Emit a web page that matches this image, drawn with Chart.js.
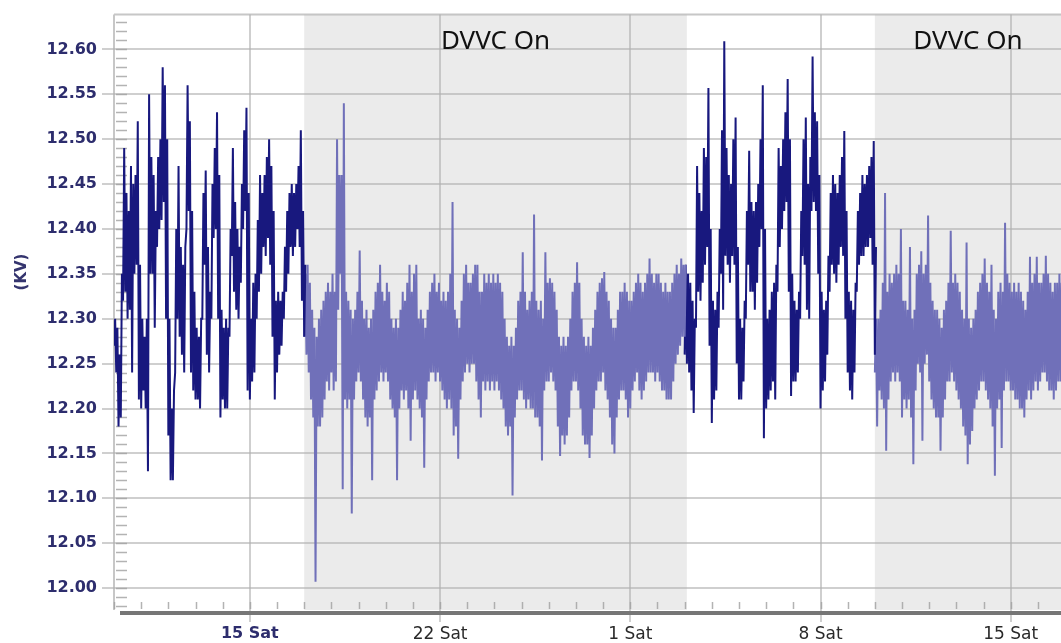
<!DOCTYPE html>
<html><head><meta charset="utf-8">
<script src="https://cdn.jsdelivr.net/npm/chart.js@4.4.1/dist/chart.umd.min.js"></script>
<style>html,body{margin:0;padding:0;background:#fff;overflow:hidden}#wrap{width:1061px;height:643px;position:relative}canvas{display:block}</style>
</head><body><div id="wrap"><canvas id="c" width="1061" height="643"></canvas></div>
<script>
// x axis: days relative to Saturday 15 Feb (0 = "15 Sat")
const xMin = -5, xMax = 29.85;
const xTickDays = [0, 7, 14, 21, 28];
const xTickLabels = ['15 Sat', '22 Sat', '1 Sat', '8 Sat', '15 Sat'];
const yTicks = [12.00, 12.05, 12.10, 12.15, 12.20, 12.25, 12.30, 12.35, 12.40, 12.45, 12.50, 12.55, 12.60];
const yMin = 11.9756, yMax = 12.6387;
const yTitle = '(KV)';
const sampleStep = 1 / 12;           // 2-hour samples (days); each sample has a low and a high reading
const segmentStarts = [-5, 2, 16, 23];
const dvvcOnSpans = [[2, 16.08], [23, 29.85]];
const dvvcLabel = 'DVVC On';

// voltage (kV), DVVC off, 10 Feb -> 17 Feb : high / low per 2-hour sample
const offAHi = [12.30,12.29,12.26,12.35,12.49,12.44,12.42,12.47,12.45,12.46,
12.52,12.36,12.30,12.28,12.30,12.55,12.48,12.46,12.42,12.48,
12.50,12.58,12.56,12.50,12.30,12.20,12.22,12.40,12.47,12.38,
12.36,12.38,12.56,12.52,12.42,12.33,12.29,12.28,12.30,12.44,
12.465,12.38,12.33,12.45,12.49,12.53,12.46,12.31,12.29,12.30,
12.29,12.40,12.49,12.43,12.40,12.38,12.45,12.51,12.535,12.44,
12.30,12.34,12.35,12.41,12.46,12.44,12.46,12.48,12.50,12.47,
12.42,12.32,12.33,12.32,12.33,12.38,12.42,12.44,12.45,12.44,
12.45,12.47,12.51,12.42,12.36];
const offALo = [12.27,12.24,12.18,12.19,12.32,12.33,12.30,12.31,12.24,12.35,
12.36,12.21,12.20,12.22,12.20,12.13,12.35,12.35,12.29,12.38,
12.40,12.41,12.43,12.30,12.17,12.12,12.12,12.24,12.30,12.28,
12.26,12.24,12.40,12.42,12.24,12.22,12.21,12.21,12.20,12.30,
12.36,12.26,12.24,12.30,12.39,12.40,12.30,12.19,12.21,12.20,
12.20,12.28,12.37,12.33,12.31,12.30,12.34,12.40,12.42,12.22,
12.21,12.23,12.24,12.30,12.33,12.35,12.38,12.37,12.39,12.36,
12.28,12.21,12.24,12.26,12.27,12.30,12.33,12.35,12.38,12.37,
12.38,12.40,12.38,12.32,12.28];
// DVVC on, 17 Feb -> 3 Mar
const onAHi = [12.35,12.36,12.34,12.31,12.29,12.28,12.30,12.31,12.32,12.33,
12.34,12.33,12.35,12.33,12.50,12.46,12.46,12.54,12.33,12.32,
12.31,12.30,12.31,12.33,12.376,12.32,12.30,12.31,12.29,12.30,
12.31,12.33,12.34,12.36,12.33,12.32,12.34,12.33,12.30,12.29,
12.30,12.29,12.31,12.33,12.32,12.34,12.36,12.33,12.35,12.36,
12.30,12.31,12.30,12.29,12.31,12.33,12.34,12.35,12.33,12.34,
12.32,12.33,12.32,12.33,12.35,12.43,12.31,12.30,12.29,12.32,
12.35,12.36,12.34,12.34,12.35,12.36,12.36,12.33,12.33,12.35,
12.34,12.35,12.34,12.35,12.34,12.35,12.34,12.33,12.30,12.28,
12.27,12.28,12.27,12.29,12.32,12.33,12.374,12.33,12.31,12.32,
12.33,12.416,12.32,12.31,12.32,12.30,12.374,12.34,12.345,12.34,
12.33,12.31,12.28,12.27,12.28,12.27,12.28,12.30,12.33,12.34,
12.363,12.34,12.30,12.28,12.27,12.28,12.27,12.29,12.31,12.33,
12.34,12.345,12.352,12.33,12.32,12.30,12.29,12.29,12.31,12.33,
12.33,12.34,12.33,12.32,12.32,12.33,12.34,12.35,12.34,12.33,
12.34,12.35,12.367,12.35,12.34,12.35,12.35,12.34,12.33,12.34,
12.33,12.33,12.34,12.35,12.36,12.35,12.367,12.36,12.36];
const onALo = [12.28,12.26,12.24,12.21,12.19,12.007,12.18,12.18,12.19,12.21,
12.23,12.22,12.24,12.22,12.23,12.31,12.35,12.11,12.21,12.20,
12.21,12.083,12.21,12.23,12.24,12.23,12.21,12.19,12.18,12.19,
12.12,12.21,12.22,12.23,12.24,12.23,12.24,12.23,12.21,12.20,
12.19,12.12,12.20,12.22,12.21,12.22,12.20,12.164,12.21,12.22,
12.21,12.20,12.19,12.134,12.21,12.23,12.24,12.24,12.23,12.24,
12.23,12.22,12.21,12.20,12.21,12.20,12.17,12.18,12.144,12.21,
12.23,12.24,12.25,12.24,12.25,12.25,12.23,12.21,12.19,12.23,
12.22,12.23,12.22,12.23,12.22,12.23,12.22,12.21,12.20,12.18,
12.17,12.18,12.103,12.19,12.21,12.22,12.22,12.21,12.20,12.21,
12.20,12.20,12.19,12.19,12.18,12.142,12.22,12.23,12.23,12.24,
12.23,12.22,12.18,12.147,12.17,12.16,12.17,12.19,12.22,12.23,
12.23,12.22,12.20,12.17,12.16,12.16,12.145,12.17,12.20,12.22,
12.23,12.23,12.24,12.22,12.21,12.19,12.16,12.15,12.19,12.21,
12.22,12.22,12.21,12.19,12.20,12.22,12.23,12.24,12.22,12.21,
12.22,12.23,12.24,12.24,12.24,12.23,12.24,12.23,12.22,12.22,
12.21,12.21,12.21,12.23,12.25,12.26,12.27,12.28,12.28];
// DVVC off, 3 Mar -> 10 Mar
const offBHi = [12.36,12.35,12.34,12.32,12.30,12.47,12.44,12.42,12.49,12.48,
12.557,12.40,12.32,12.31,12.33,12.40,12.51,12.609,12.49,12.46,
12.45,12.50,12.524,12.38,12.30,12.29,12.32,12.42,12.487,12.43,
12.42,12.43,12.45,12.50,12.56,12.40,12.30,12.31,12.33,12.34,
12.36,12.49,12.47,12.50,12.53,12.567,12.50,12.35,12.32,12.31,
12.33,12.42,12.50,12.524,12.45,12.48,12.592,12.53,12.52,12.46,
12.33,12.31,12.32,12.37,12.44,12.46,12.45,12.44,12.46,12.48,
12.509,12.42,12.33,12.32,12.31,12.34,12.42,12.44,12.46,12.45,
12.46,12.47,12.48,12.498,12.38];
const offBLo = [12.26,12.25,12.24,12.22,12.195,12.29,12.33,12.32,12.34,12.36,
12.38,12.27,12.184,12.21,12.22,12.29,12.35,12.31,12.37,12.36,
12.34,12.37,12.36,12.25,12.21,12.21,12.23,12.30,12.36,12.33,
12.33,12.31,12.34,12.38,12.40,12.167,12.20,12.21,12.22,12.23,
12.21,12.33,12.38,12.40,12.42,12.43,12.33,12.214,12.23,12.23,
12.24,12.30,12.37,12.36,12.31,12.30,12.42,12.43,12.42,12.35,
12.20,12.22,12.23,12.26,12.33,12.36,12.35,12.34,12.36,12.38,
12.37,12.30,12.24,12.22,12.21,12.24,12.33,12.36,12.37,12.37,
12.38,12.38,12.39,12.36,12.26];
// DVVC on, 10 Mar ->
const onBHi = [12.30,12.30,12.31,12.34,12.44,12.33,12.35,12.34,12.35,12.36,
12.35,12.40,12.32,12.32,12.31,12.38,12.30,12.31,12.35,12.36,
12.375,12.35,12.36,12.415,12.34,12.32,12.31,12.31,12.30,12.29,
12.31,12.32,12.34,12.398,12.34,12.35,12.34,12.33,12.31,12.30,
12.385,12.30,12.29,12.30,12.31,12.33,12.34,12.35,12.367,12.34,
12.33,12.36,12.31,12.30,12.33,12.34,12.33,12.407,12.35,12.34,
12.33,12.34,12.33,12.34,12.33,12.32,12.31,12.33,12.369,12.34,
12.35,12.369,12.34,12.34,12.35,12.37,12.35,12.34,12.33,12.34,
12.34,12.35,12.34];
const onBLo = [12.24,12.18,12.22,12.21,12.20,12.153,12.21,12.23,12.24,12.23,
12.24,12.23,12.19,12.21,12.20,12.21,12.19,12.138,12.22,12.25,
12.24,12.164,12.25,12.26,12.23,12.21,12.20,12.19,12.19,12.153,
12.19,12.21,12.23,12.23,12.24,12.23,12.22,12.21,12.20,12.18,
12.17,12.138,12.16,12.175,12.20,12.21,12.22,12.23,12.23,12.22,
12.21,12.20,12.18,12.125,12.20,12.21,12.156,12.22,12.23,12.23,
12.22,12.22,12.21,12.21,12.20,12.20,12.19,12.21,12.22,12.21,
12.22,12.23,12.22,12.23,12.24,12.24,12.23,12.22,12.22,12.21,
12.22,12.23,12.23];

const offColor = '#18187e';
const onColor = '#7070b9';

// each 2-hour sample is drawn as its low reading followed by its high reading
function series(lo, hi, start) {
  const pts = [];
  lo.forEach((v, i) => {
    pts.push({ x: start + i * sampleStep, y: v });
    pts.push({ x: start + (i + 0.5) * sampleStep, y: hi[i] });
  });
  return pts;
}

const decor = {
  id: 'decor',
  beforeDraw(chart) {
    const { ctx, chartArea: a, scales: { x } } = chart;
    ctx.save();
    ctx.fillStyle = '#ffffff';
    ctx.fillRect(0, 0, chart.width, chart.height);
    ctx.fillStyle = '#ebebeb';
    dvvcOnSpans.forEach(([s, e]) => {
      const x0 = x.getPixelForValue(s), x1 = Math.min(x.getPixelForValue(e), a.right);
      ctx.fillRect(x0, a.top, x1 - x0, a.bottom - a.top);
    });
    ctx.restore();
  },
  beforeDatasetsDraw(chart) {
    const { ctx, chartArea: a, scales: { x, y } } = chart;
    ctx.save();
    ctx.strokeStyle = 'rgba(175,175,175,0.7)';
    ctx.lineWidth = 2;
    ctx.beginPath();
    ctx.moveTo(a.left, a.top); ctx.lineTo(a.right, a.top);
    ctx.moveTo(a.left, a.top); ctx.lineTo(a.left, a.bottom);
    ctx.stroke();
    ctx.strokeStyle = 'rgba(160,160,160,0.8)';
    ctx.lineWidth = 1.5;
    ctx.beginPath();
    for (let k = Math.ceil(yMin * 100); k <= Math.floor(yMax * 100); k++) {
      const py = Math.round(y.getPixelForValue(k / 100)) + 0.5;
      ctx.moveTo(a.left + 2, py); ctx.lineTo(a.left + 13, py);
    }
    ctx.stroke();
    ctx.beginPath();
    for (let d = Math.ceil(xMin); d <= Math.floor(xMax); d++) {
      const px = Math.round(x.getPixelForValue(d)) + 0.5;
      ctx.moveTo(px, a.bottom - 8); ctx.lineTo(px, a.bottom - 1);
    }
    ctx.stroke();
    ctx.strokeStyle = '#767676';
    ctx.lineWidth = 4;
    ctx.beginPath();
    ctx.moveTo(a.left + 6, a.bottom + 3); ctx.lineTo(a.right, a.bottom + 3);
    ctx.stroke();
    ctx.restore();
  },
  afterDraw(chart) {
    const { ctx, chartArea: a, scales: { x } } = chart;
    ctx.save();
    ctx.fillStyle = '#111';
    ctx.font = '26px "Noto Sans"';
    ctx.textAlign = 'center';
    ctx.textBaseline = 'middle';
    dvvcOnSpans.forEach(([s, e]) => {
      const x0 = x.getPixelForValue(s), x1 = Math.min(x.getPixelForValue(e), a.right);
      ctx.fillText(dvvcLabel, (x0 + x1) / 2, a.top + 27);
    });
    ctx.translate(22, 272);
    ctx.rotate(-Math.PI / 2);
    ctx.fillStyle = '#34346e';
    ctx.font = 'bold 15px "DejaVu Sans"';
    ctx.fillText(yTitle, 0, 0);
    ctx.restore();
  }
};

new Chart(document.getElementById('c'), {
  type: 'line',
  data: {
    datasets: [
      { data: series(offALo, offAHi, segmentStarts[0]), borderColor: offColor },
      { data: series(onALo, onAHi, segmentStarts[1]), borderColor: onColor },
      { data: series(offBLo, offBHi, segmentStarts[2]), borderColor: offColor },
      { data: series(onBLo, onBHi, segmentStarts[3]), borderColor: onColor }
    ]
  },
  options: {
    responsive: false,
    animation: false,
    layout: { padding: { left: 0, right: 0, top: 11, bottom: 0 } },
    plugins: { legend: { display: false }, tooltip: { enabled: false } },
    elements: { point: { radius: 0 }, line: { tension: 0, borderWidth: 2, fill: false, borderJoinStyle: 'miter' } },
    scales: {
      x: {
        type: 'linear', min: xMin, max: xMax,
        afterBuildTicks: s => { s.ticks = xTickDays.map(v => ({ value: v })); },
        afterFit: s => { s.height = 33; },
        grid: { color: 'rgba(175,175,175,0.6)', lineWidth: 2, tickLength: 12, drawTicks: true },
        border: { display: false },
        ticks: {
          autoSkip: false, maxRotation: 0, padding: 2,
          callback: (v, i) => xTickLabels[i],
          color: c => c.index === 0 ? '#2d2d6d' : '#2a2a2a',
          font: c => c.index === 0 ? { family: 'DejaVu Sans', size: 16, weight: 'bold' } : { family: 'DejaVu Sans', size: 17 }
        }
      },
      y: {
        type: 'linear', min: yMin, max: yMax,
        afterBuildTicks: s => { s.ticks = yTicks.map(v => ({ value: v })); },
        afterFit: s => { s.width = 114; },
        grid: { color: 'rgba(175,175,175,0.6)', lineWidth: 2, tickLength: 12, drawTicks: true },
        border: { display: false },
        ticks: {
          padding: 5,
          callback: v => Number(v).toFixed(2),
          color: '#2d2d6d',
          font: { family: 'DejaVu Sans', size: 16, weight: 'bold' }
        }
      }
    }
  },
  plugins: [decor]
});
</script>
</body></html>
